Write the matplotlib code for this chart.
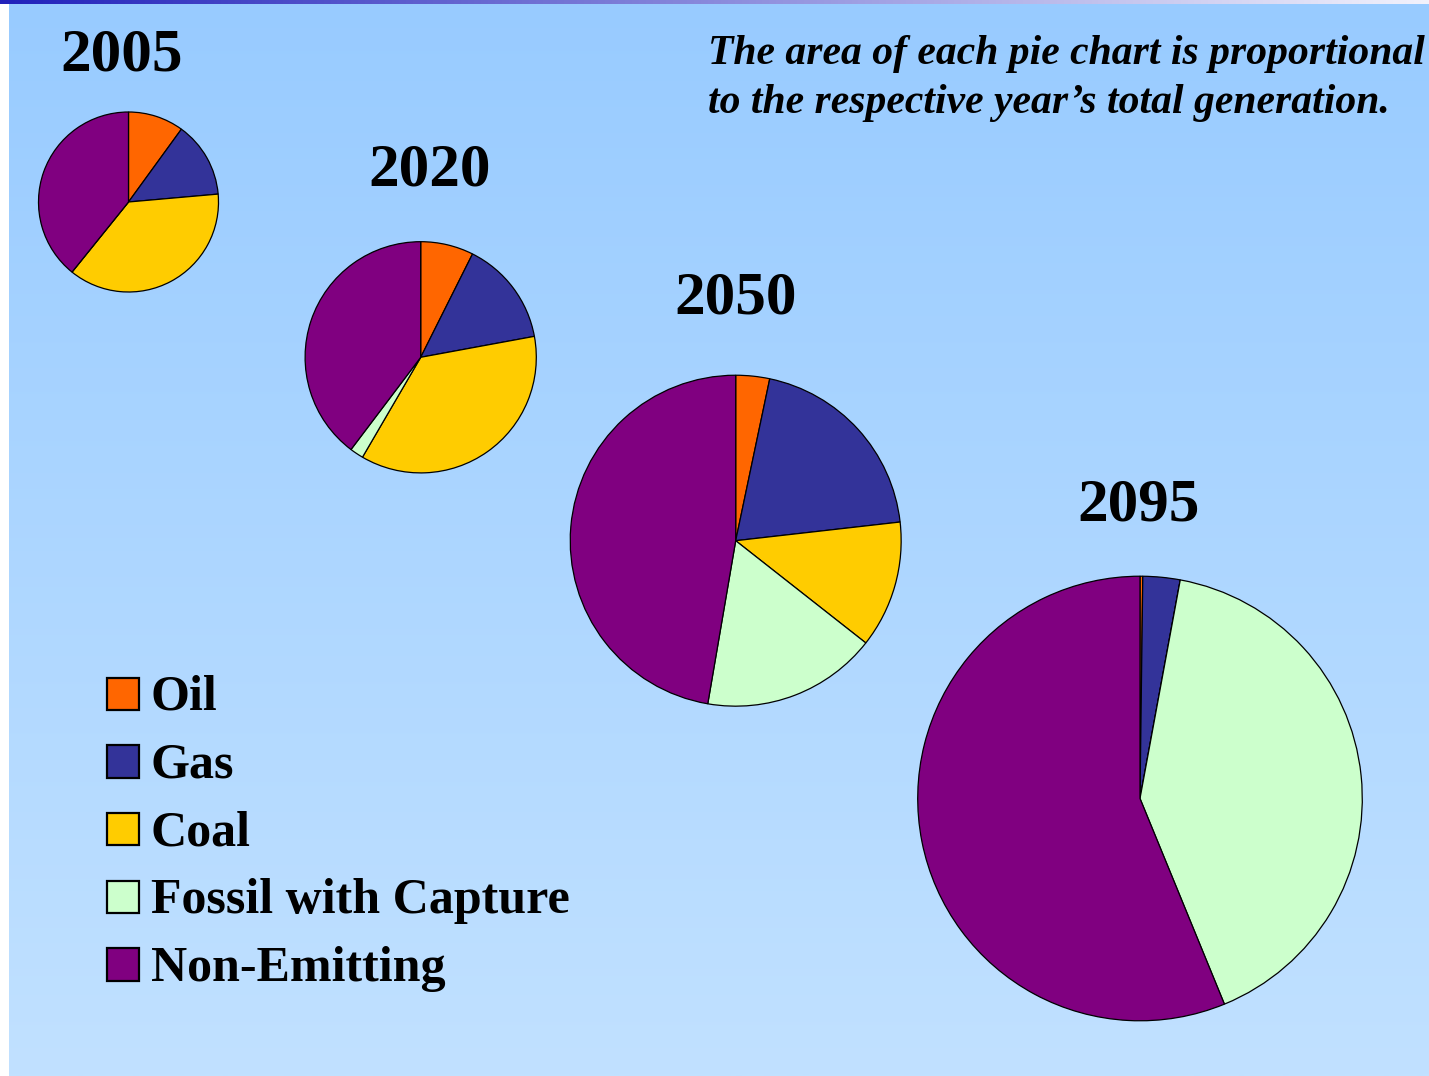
import numpy as np
import matplotlib
matplotlib.use("Agg")
import matplotlib.pyplot as plt
from matplotlib.patches import Rectangle

# ---- data -------------------------------------------------------------
years = ["2005", "2020", "2050", "2095"]
sources = ["Oil", "Gas", "Coal", "Fossil with Capture", "Non-Emitting"]
colors = ["#FF6600", "#333399", "#FFCC00", "#CCFFCC", "#800080"]

# generation mix, percent of the year's total
# order: Oil, Gas, Coal, Fossil with Capture, Non-Emitting
mix_2005 = [10.0, 13.6, 37.2, 0.0, 39.2]
mix_2020 = [7.4, 14.7, 36.3, 1.9, 39.7]
mix_2050 = [3.3, 19.9, 12.4, 17.1, 47.3]
mix_2095 = [0.2, 2.7, 0.0, 40.9, 56.2]
mixes = [mix_2005, mix_2020, mix_2050, mix_2095]

# total generation, relative to 2005
total_generation = [1.00, 1.65, 3.38, 6.10]

note_lines = ["The area of each pie chart is proportional",
              "to the respective year\u2019s total generation."]

# ---- layout (pixel coordinates, y downward) ---------------------------
W, H = 1429, 1076
pie_centers = [(128.5, 202.0), (420.7, 357.3), (735.7, 540.7), (1140.0, 798.5)]
base_radius = 90.0
year_label_pos = [(122, 70.5), (430, 186), (736, 313), (1138.5, 520.5)]

SERIF = ["Liberation Serif", "DejaVu Serif"]

fig = plt.figure(figsize=(W / 100, H / 100), dpi=100)
ax = fig.add_axes([0, 0, 1, 1])
ax.set_xlim(0, W)
ax.set_ylim(H, 0)
ax.axis("off")

# background: vertical light-blue gradient
top_rgb = np.array([152, 203, 255]) / 255
bot_rgb = np.array([193, 225, 255]) / 255
t = np.linspace(0, 1, 256)[:, None, None]
grad = top_rgb[None, None, :] * (1 - t) + bot_rgb[None, None, :] * t
ax.imshow(grad, extent=[0, W, H, 0], aspect="auto", zorder=0,
          interpolation="bilinear")

# white strip along the left edge
ax.add_patch(Rectangle((0, 4), 9, H - 4, facecolor="white",
                       edgecolor="none", zorder=1))
# header bar: dark blue fading to near-white
s = np.linspace(0, 1, 512)[None, :, None]
c0 = np.array([34, 34, 187]) / 255
c1 = np.array([242, 242, 252]) / 255
bar = c0[None, None, :] * (1 - s) + c1[None, None, :] * s
ax.imshow(bar, extent=[0, W, 4, 0], aspect="auto", zorder=1,
          interpolation="bilinear")

# pies: area scales with total generation
for year, mix, total, (cx, cy), (lx, ly) in zip(
        years, mixes, total_generation, pie_centers, year_label_pos):
    r = base_radius * np.sqrt(total)
    ax.pie(mix, colors=colors, center=(cx, cy), radius=r,
           startangle=-90, counterclock=True, frame=True,
           wedgeprops=dict(edgecolor="black", linewidth=0.9),
           normalize=True)
    ax.text(lx, ly, year, ha="center", va="baseline", fontsize=44,
            fontweight="bold", family=SERIF, color="black", zorder=5)

ax.set_xlim(0, W)
ax.set_ylim(H, 0)
ax.set_aspect("auto")
ax.axis("off")

# explanatory note
for i, line in enumerate(note_lines):
    ax.text(708, 64 + i * 48.5, line, ha="left", va="baseline", fontsize=30,
            fontweight="bold", fontstyle="italic", family=SERIF,
            color="black", zorder=5)

# legend
sq = 32.5
for i, (name, col) in enumerate(zip(sources, colors)):
    bottom = 710 + i * 67.7
    ax.add_patch(Rectangle((106.7, bottom - sq), sq, sq, facecolor=col,
                           edgecolor="black", linewidth=1.6, zorder=5))
    ax.text(151.0, bottom, name, ha="left", va="baseline", fontsize=36,
            fontweight="bold", family=SERIF, color="black", zorder=5)

fig.savefig("out.png", dpi=100)
